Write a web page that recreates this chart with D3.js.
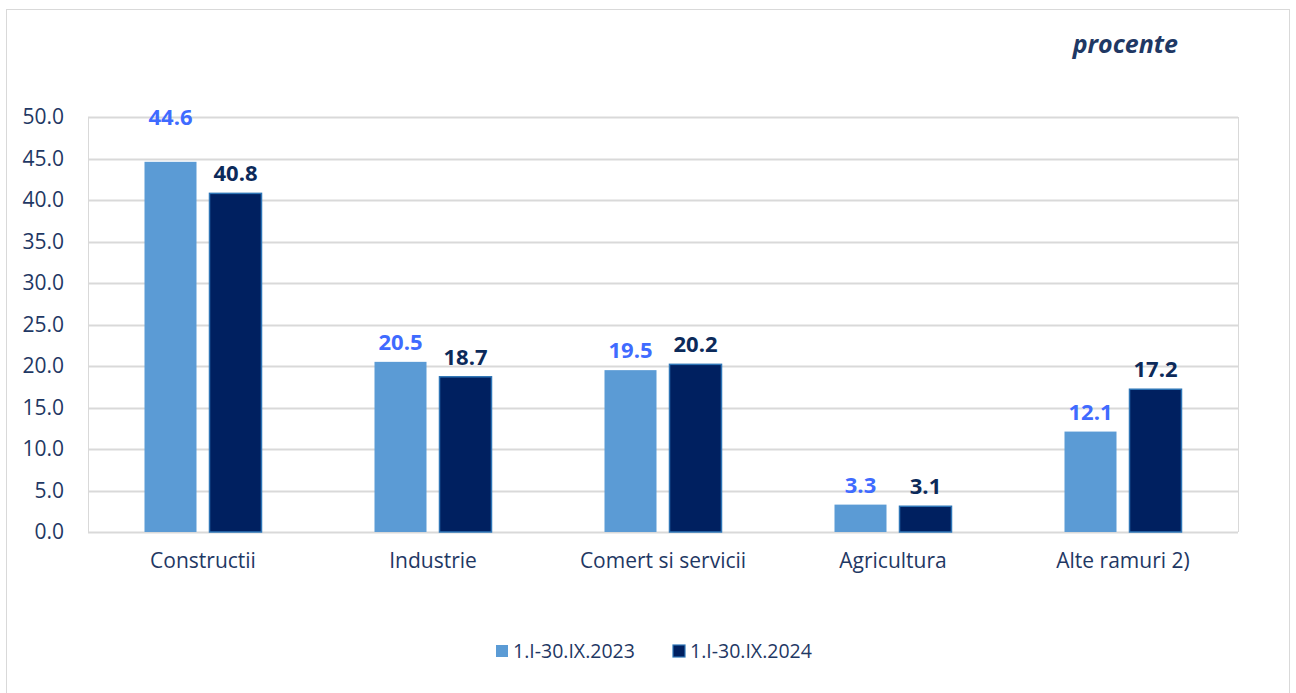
<!DOCTYPE html>
<html>
<head>
<meta charset="utf-8">
<script src="https://cdn.jsdelivr.net/npm/d3@7"></script>
<style>
  body { margin: 0; background: #fff; }
  text { font-family: "Open Sans", "Noto Sans", sans-serif; }
</style>
</head>
<body>
<div id="svganchor"></div>
<script>
let width = 1296;
let height = 693;
let margin = { top: 117, right: 58, bottom: 161, left: 88 };

// data
let categories = ["Constructii", "Industrie", "Comert si servicii", "Agricultura", "Alte ramuri 2)"];
let series2023 = [44.6, 20.5, 19.5, 3.3, 12.1];
let series2024 = [40.8, 18.7, 20.2, 3.1, 17.2];
let seriesNames = ["1.I-30.IX.2023", "1.I-30.IX.2024"];
let yTicks = [0, 5, 10, 15, 20, 25, 30, 35, 40, 45, 50];

let colors = ["#5b9bd5", "#002060"];
let labelColors = ["#3f6bff", "#0c2a5a"];
let textColor = "#1f3864";

let svg = d3.select("#svganchor").append("svg").attr("width", width).attr("height", height);

// outer frame
svg.append("rect")
  .attr("x", 6.5).attr("y", 9.5)
  .attr("width", 1283).attr("height", 700)
  .attr("fill", "none").attr("stroke", "#d9d9d9").attr("stroke-width", 1);

let xScale = d3.scaleBand()
  .domain(categories)
  .range([margin.left, width - margin.right]);

let yScale = d3.scaleLinear()
  .domain([0, 50])
  .range([height - margin.bottom, margin.top]);

// gridlines
svg.append("g")
  .selectAll("line")
  .data(yTicks)
  .enter()
  .append("line")
  .attr("x1", margin.left)
  .attr("x2", width - margin.right)
  .attr("y1", d => Math.round(yScale(d)) + 0.5)
  .attr("y2", d => Math.round(yScale(d)) + 0.5)
  .attr("stroke", "#d9d9d9")
  .attr("stroke-width", 2);

// plot area side borders
[margin.left, width - margin.right].forEach(function (x) {
  svg.append("line")
    .attr("x1", x + 0.5).attr("x2", x + 0.5)
    .attr("y1", margin.top).attr("y2", height - margin.bottom)
    .attr("stroke", "#d9d9d9").attr("stroke-width", 1);
});

// y axis labels
let yAxis = d3.axisLeft(yScale).tickValues(yTicks).tickFormat(d3.format(".1f")).tickSize(0).tickPadding(24);
let yg = svg.append("g")
  .attr("transform", "translate(" + margin.left + ",0)")
  .call(yAxis);
yg.select(".domain").remove();
yg.selectAll("text")
  .attr("fill", textColor)
  .style("font-size", "21px");

// x axis labels
let xAxis = d3.axisBottom(xScale).tickSize(0).tickPadding(21);
let xg = svg.append("g")
  .attr("transform", "translate(0," + (height - margin.bottom) + ")")
  .call(xAxis);
xg.select(".domain").remove();
xg.selectAll("text")
  .attr("fill", textColor)
  .style("font-size", "21px");

// bars
let barW = 52;
let gap = 13;
let allSeries = [series2023, series2024];

allSeries.forEach(function (values, si) {
  let offset = si === 0 ? -(gap / 2 + barW) : gap / 2;
  let rows = categories.map((c, i) => ({ cat: c, v: values[i] }));

  svg.append("g")
    .selectAll("rect")
    .data(rows)
    .enter()
    .append("rect")
    .attr("x", d => xScale(d.cat) + xScale.bandwidth() / 2 + offset)
    .attr("y", d => yScale(d.v))
    .attr("width", barW)
    .attr("height", d => yScale(0) - yScale(d.v))
    .attr("fill", colors[si])
    .attr("stroke", si === 0 ? "none" : "#2e75b6")
    .attr("stroke-width", 1.5);

  svg.append("g")
    .selectAll("text")
    .data(rows)
    .enter()
    .append("text")
    .attr("x", d => xScale(d.cat) + xScale.bandwidth() / 2 + offset + barW / 2)
    .attr("y", function (d) {
      // tallest label was pushed up to the top line in the original
      if (d.v > 42) return yScale(50) + 8;
      return yScale(d.v) - 12;
    })
    .attr("text-anchor", "middle")
    .attr("fill", labelColors[si])
    .style("font-size", "22px")
    .style("font-weight", "bold")
    .text(d => d3.format(".1f")(d.v));
});

// unit label
svg.append("text")
  .attr("x", 1178)
  .attr("y", 53)
  .attr("text-anchor", "end")
  .attr("fill", textColor)
  .style("font-size", "25px")
  .style("font-weight", "bold")
  .style("font-style", "italic")
  .text("procente");

// legend
let legendX = [496, 673];
seriesNames.forEach(function (name, i) {
  let g = svg.append("g").attr("transform", "translate(" + legendX[i] + ",645)");
  g.append("rect")
    .attr("width", 12).attr("height", 12)
    .attr("fill", colors[i])
    .attr("stroke", i === 0 ? "none" : "#2e75b6")
    .attr("stroke-width", 1.2);
  g.append("text")
    .attr("x", 17)
    .attr("y", 13)
    .attr("fill", textColor)
    .style("font-size", "19.5px")
    .text(name);
});
</script>
</body>
</html>
